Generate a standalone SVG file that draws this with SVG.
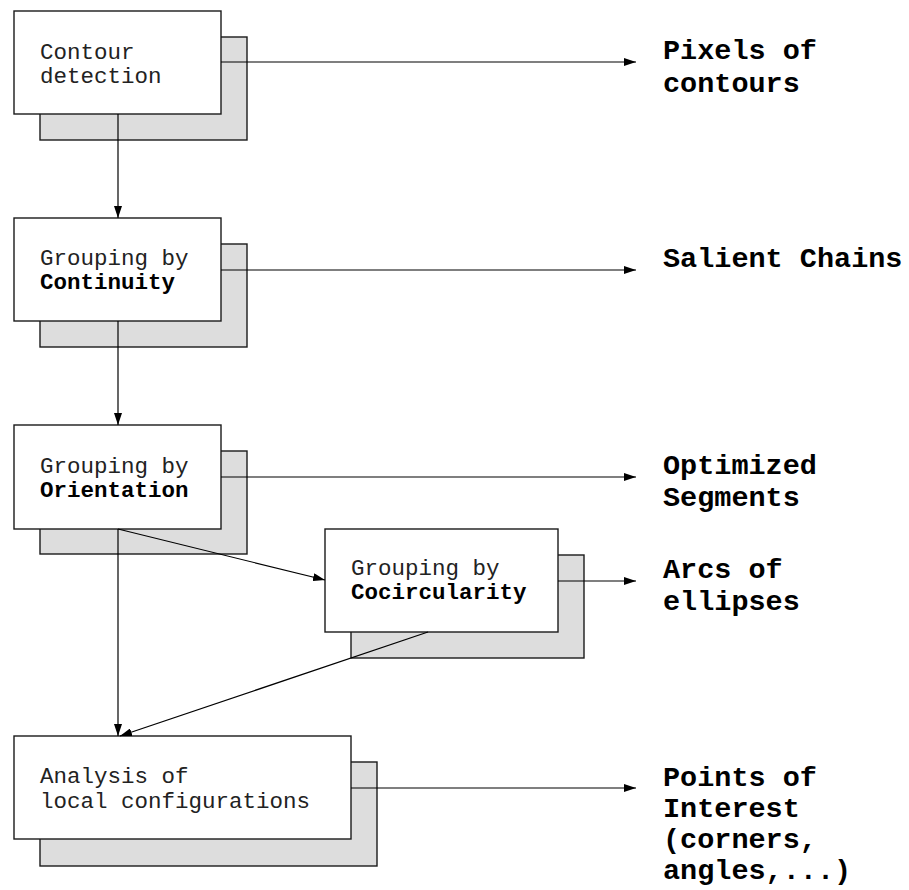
<svg xmlns="http://www.w3.org/2000/svg" width="909" height="890" viewBox="0 0 909 890">
<style>
.shadow{fill:#dddddd;stroke:#1a1a1a;stroke-width:1.4}
.front{fill:#ffffff;stroke:#1a1a1a;stroke-width:1.4}
.t{font-family:"Liberation Mono","Courier New",monospace;font-size:22.5px;fill:#222}
.b{font-weight:bold;fill:#000}
.lbl{font-family:"Liberation Mono","Courier New",monospace;font-size:28.5px;font-weight:bold;fill:#000}
.c{stroke:#000;stroke-width:1.2;fill:none;marker-end:url(#ah)}
</style>
<defs>
<marker id="ah" markerWidth="12" markerHeight="8" refX="12" refY="4" orient="auto" markerUnits="userSpaceOnUse">
<path d="M0,0 L12,4 L0,8 Z" fill="#000"/>
</marker>
</defs>
<g id="n1">
<rect class="shadow" x="40" y="37" width="207" height="103"/>
<rect class="front" x="14" y="11" width="207" height="103"/>
<text class="t" x="40" y="59">Contour</text>
<text class="t" x="40" y="83">detection</text>
</g>
<g id="n2">
<rect class="shadow" x="40" y="244" width="207" height="103"/>
<rect class="front" x="14" y="218" width="207" height="103"/>
<text class="t" x="40" y="265">Grouping by</text>
<text class="t b" x="40" y="289">Continuity</text>
</g>
<g id="n3">
<rect class="shadow" x="40" y="451" width="207" height="103"/>
<rect class="front" x="14" y="425" width="207" height="104"/>
<text class="t" x="40" y="473">Grouping by</text>
<text class="t b" x="40" y="497">Orientation</text>
</g>
<g id="n4">
<rect class="shadow" x="351" y="555" width="233" height="103"/>
<rect class="front" x="325" y="529" width="233" height="103"/>
<text class="t" x="351" y="575">Grouping by</text>
<text class="t b" x="351" y="599">Cocircularity</text>
</g>
<g id="n5">
<rect class="shadow" x="40" y="762" width="337" height="104"/>
<rect class="front" x="14" y="736" width="337" height="103"/>
<text class="t" x="40" y="783">Analysis of</text>
<text class="t" x="40" y="808">local configurations</text>
</g>
<g id="connectors">
<line class="c" x1="118" y1="114" x2="118" y2="218"/>
<line class="c" x1="118" y1="321" x2="118" y2="425"/>
<line class="c" x1="118" y1="529" x2="118" y2="736"/>
<line class="c" x1="118" y1="529" x2="325" y2="580"/>
<line class="c" x1="428" y1="632" x2="120" y2="736"/>
<line class="c" x1="221" y1="62" x2="636" y2="62"/>
<line class="c" x1="221" y1="270" x2="636" y2="270"/>
<line class="c" x1="221" y1="477" x2="636" y2="477"/>
<line class="c" x1="558" y1="581" x2="636" y2="581"/>
<line class="c" x1="351" y1="788" x2="636" y2="788"/>
</g>
<g id="labels">
<text class="lbl" x="663" y="59">Pixels of</text>
<text class="lbl" x="663" y="92">contours</text>
<text class="lbl" x="663" y="267">Salient Chains</text>
<text class="lbl" x="663" y="474">Optimized</text>
<text class="lbl" x="663" y="506">Segments</text>
<text class="lbl" x="663" y="578">Arcs of</text>
<text class="lbl" x="663" y="610">ellipses</text>
<text class="lbl" x="663" y="786">Points of</text>
<text class="lbl" x="663" y="817">Interest</text>
<text class="lbl" x="663" y="848">(corners,</text>
<text class="lbl" x="663" y="879">angles,...)</text>
</g>
</svg>
